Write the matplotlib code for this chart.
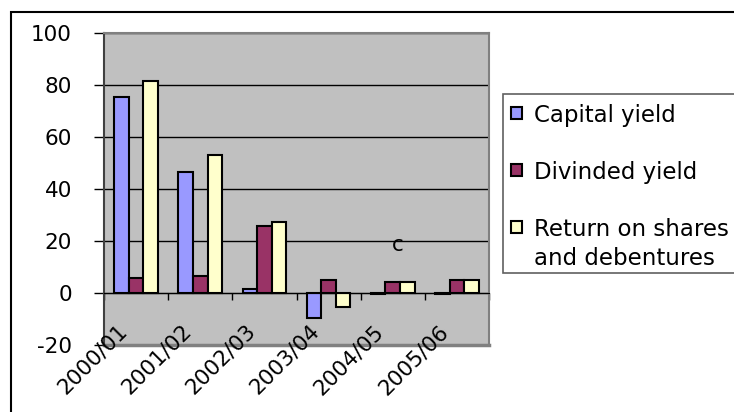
import numpy as np
import matplotlib
matplotlib.use("Agg")
import matplotlib.pyplot as plt
from matplotlib.patches import Rectangle
from matplotlib.transforms import blended_transform_factory, ScaledTranslation

years = ["2000/01", "2001/02", "2002/03", "2003/04", "2004/05", "2005/06"]
capital_yield = [75.5, 46.5, 1.4, -9.7, -0.2, -0.2]
dividend_yield = [5.9, 6.6, 25.8, 5.0, 4.3, 5.0]
total_return = [81.5, 53.0, 27.2, -5.3, 4.2, 5.0]
series_names = ["Capital yield", "Divinded yield", "Return on shares\nand debentures"]
series_colors = ["#9999FF", "#993366", "#FFFFCC"]
yticks = [-20, 0, 20, 40, 60, 80, 100]

plt.rcParams["font.family"] = "DejaVu Sans"
plt.rcParams["axes.unicode_minus"] = False
W, H = 734, 412
fig = plt.figure(figsize=(W / 100, H / 100), dpi=100)

def px(x, y):
    return x / W, 1 - y / H

left, top = px(104, 33)
right, bottom = px(489, 345)
ax = fig.add_axes([left, bottom, right - left, top - bottom])
ax.set_facecolor("#C0C0C0")

x = np.arange(len(years))
bw = 0.226
for k, vals in enumerate([capital_yield, dividend_yield, total_return]):
    ax.bar(x + (k - 1) * bw, vals, bw, color=series_colors[k],
           edgecolor="black", linewidth=1.5, zorder=3)

ax.set_xlim(-0.5, len(years) - 0.5)
ax.set_ylim(-20, 100)
ax.set_yticks(yticks)
ax.yaxis.grid(True, color="black", linewidth=1.0, zorder=1)
ax.tick_params(axis="y", length=7, width=1, pad=16, labelsize=15.5)

# category axis sits on the zero line, ticks at the group boundaries
ax.spines["bottom"].set_position(("data", 0))
ax.spines["bottom"].set_color("black")
ax.spines["bottom"].set_zorder(4)
ax.set_xticks(np.arange(len(years) + 1) - 0.5)
ax.set_xticklabels([])
ax.tick_params(axis="x", length=5, width=1, direction="out")
for s in ["top", "right"]:
    ax.spines[s].set_color("#808080")
    ax.spines[s].set_linewidth(1.5)
ax.spines["left"].set_color("#404040")
ax.spines["left"].set_linewidth(1.5)
ax.axhline(-20, color="#808080", linewidth=2.5, clip_on=False, zorder=2)

trans = blended_transform_factory(ax.transData, ax.transAxes)
shift = ScaledTranslation(-12 / 100, 17 / 100, fig.dpi_scale_trans)
for i, lab in enumerate(years):
    ax.text(i, 0, lab, transform=trans + shift, rotation=45, fontsize=15.5,
            ha="right", va="center", rotation_mode="anchor", zorder=5)

ax.text(398 / W, 1 - 245 / H, "c", transform=fig.transFigure, fontsize=15.5,
        ha="center", va="center")

# legend box, drawn by hand so the two-line entry keeps its marker on line one
lx, ly = px(503, 94)
lx2, ly2 = px(740, 273)
fig.patches.append(Rectangle((lx, ly2), lx2 - lx, ly - ly2, transform=fig.transFigure,
                             facecolor="white", edgecolor="#606060", linewidth=1.2))
for k, (name, col) in enumerate(zip(series_names, series_colors)):
    yc = 113 + 57 * k
    sx, sy = px(511, yc + 6)
    fig.patches.append(Rectangle((sx, sy), 11 / W, 12 / H, transform=fig.transFigure,
                                 facecolor=col, edgecolor="black", linewidth=1.5))
    tx, ty = px(534, yc - 9)
    fig.text(tx, ty, name, fontsize=16.5, ha="left", va="top", linespacing=1.35)

# outer chart frame
fx, fy = px(11, 12)
fig.patches.append(Rectangle((fx, -0.1), 1.2, fy + 0.1, transform=fig.transFigure,
                             facecolor="none", edgecolor="black", linewidth=1.5))

fig.savefig("out.png", dpi=100)
